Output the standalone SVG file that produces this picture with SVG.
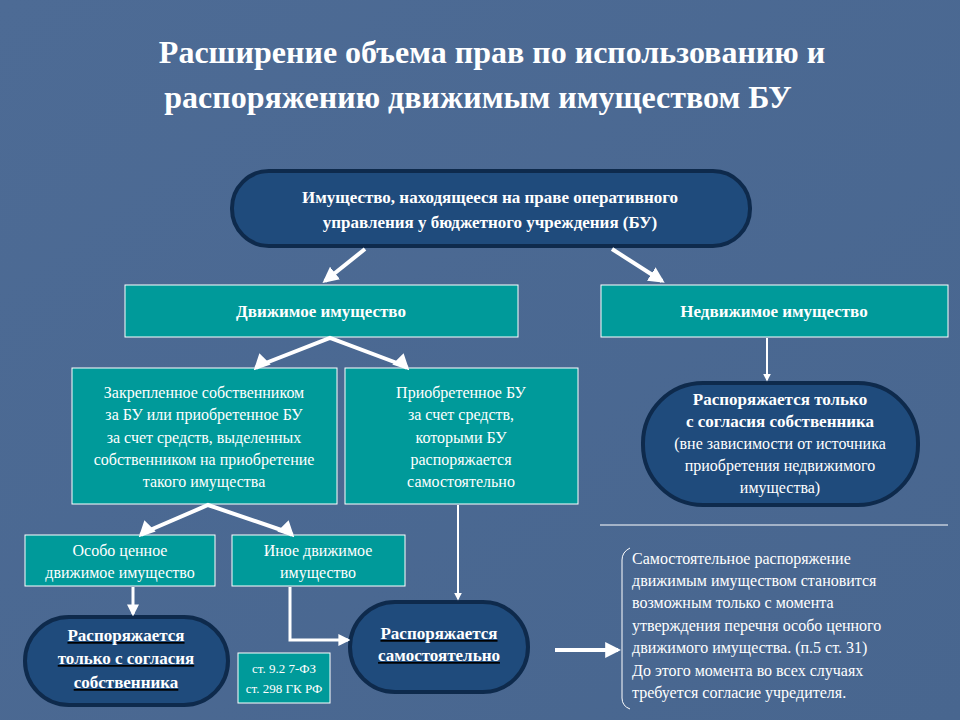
<svg xmlns="http://www.w3.org/2000/svg" width="960" height="720" viewBox="0 0 960 720">
<defs>
<marker id="ah" viewBox="0 0 10 10" refX="8" refY="5" markerWidth="4" markerHeight="4" orient="auto"><path d="M0,0L10,5L0,10z" fill="#fff"/></marker>
<linearGradient id="bg" x1="0" y1="0" x2="1" y2="1"><stop offset="0" stop-color="#4d6b95"/><stop offset="1" stop-color="#48668f"/></linearGradient>
</defs>
<style>
text{fill:#fff;text-anchor:middle;font-family:"Liberation Serif",serif !important}
text.l{text-anchor:start}
.t{font-size:32px;font-weight:bold}
.box{fill:#009a9a;stroke:#fff;stroke-width:1}
.ov{fill:#1f4b7c;stroke:#0e2a4c;stroke-width:4}
.b{font-weight:bold;font-size:17px}
.n{font-size:16px}
.c line,.c path{stroke:#fff;stroke-width:4;fill:none}
</style>
<rect width="960" height="720" fill="url(#bg)"/>
<text style="font-family:'Liberation Serif',serif" class="t" x="492" y="63">Расширение объема прав по использованию и</text>
<text style="font-family:'Liberation Serif',serif" class="t" x="478" y="108">распоряжению движимым имуществом БУ</text>
<g id="top"><rect class="ov" x="232" y="171" width="518" height="75" rx="37"/>
<text class="b" x="490" y="203">Имущество, находящееся на праве оперативного</text>
<text class="b" x="490" y="228">управления у бюджетного учреждения (БУ)</text></g>
<g id="dv"><rect class="box" x="125" y="285" width="393" height="52"/><text class="b" x="321" y="317">Движимое имущество</text></g>
<g id="ndv"><rect class="box" x="601" y="285" width="347" height="52"/><text class="b" x="774" y="317">Недвижимое имущество</text></g>
<g id="zak"><rect class="box" x="72" y="368" width="265" height="136"/>
<g class="n"><text x="204" y="398">Закрепленное собственником</text><text x="204" y="420">за БУ или приобретенное БУ</text><text x="204" y="443">за счет средств, выделенных</text><text x="204" y="465">собственником на приобретение</text><text x="204" y="487">такого имущества</text></g></g>
<g id="prb"><rect class="box" x="345" y="368" width="233" height="136"/>
<g class="n"><text x="461" y="398">Приобретенное БУ</text><text x="461" y="420">за счет средств,</text><text x="461" y="443">которыми  БУ</text><text x="461" y="465">распоряжается</text><text x="461" y="487">самостоятельно</text></g></g>
<g id="nr"><rect class="ov" x="643" y="383" width="275" height="122" rx="60"/>
<text class="b" x="780" y="405" font-size="16">Распоряжается только</text><text class="b" x="780" y="427" font-size="16">с согласия собственника</text>
<g class="n"><text x="780" y="449">(вне зависимости от источника</text><text x="780" y="471">приобретения недвижимого</text><text x="780" y="493">имущества)</text></g></g>
<line x1="600" y1="525" x2="948" y2="525" stroke="#fff" stroke-width="1"/>
<g id="os"><rect class="box" x="25" y="535" width="190" height="51"/><g class="n"><text x="120" y="556">Особо ценное</text><text x="120" y="578">движимое имущество</text></g></g>
<g id="in"><rect class="box" x="232" y="535" width="173" height="51"/><g class="n"><text x="318" y="556">Иное движимое</text><text x="318" y="578">имущество</text></g></g>
<g id="ol"><rect class="ov" x="25" y="617" width="203" height="88" rx="44"/>
<g class="b" font-size="16" text-decoration="underline"><text x="126" y="641">Распоряжается</text><text x="126" y="664">только с согласия</text><text x="126" y="688">собственника</text></g></g>
<g id="oc"><rect class="ov" x="350" y="602" width="178" height="90" rx="45"/>
<g class="b" font-size="16" text-decoration="underline"><text x="439" y="639">Распоряжается</text><text x="439" y="661">самостоятельно</text></g></g>
<g id="st"><rect class="box" x="238" y="653" width="92" height="50"/><g font-size="13"><text x="284" y="673">ст. 9.2 7-ФЗ</text><text x="284" y="693">ст. 298 ГК РФ</text></g></g>
<g id="note"><path d="M630,548 Q622,552 622,560 L622,698 Q622,706 630,709" stroke="#fff" stroke-width="1" fill="none"/>
<g class="n"><text class="l" x="632" y="564">Самостоятельное распоряжение</text><text class="l" x="632" y="586">движимым имуществом становится</text><text class="l" x="632" y="608">возможным только с момента</text><text class="l" x="632" y="631">утверждения перечня особо ценного</text><text class="l" x="632" y="653">движимого  имущества.  (п.5 ст. 31)</text><text class="l" x="632" y="676">До этого момента во всех случаях</text><text class="l" x="632" y="698">требуется согласие учредителя.</text></g></g>
<g class="c" id="connectors">
<line x1="365" y1="249" x2="325" y2="281" marker-end="url(#ah)"/>
<line x1="612" y1="249" x2="662" y2="281" marker-end="url(#ah)"/>
<path d="M258,366 L330,338 L405,366"/>
<line x1="258" y1="366" x2="256" y2="368" marker-end="url(#ah)"/>
<line x1="405" y1="366" x2="407" y2="368" marker-end="url(#ah)"/>
<line x1="767" y1="338" x2="767" y2="380" marker-end="url(#ah)" style="stroke-width:2"/>
<path d="M143,533 L208,505 L290,533"/>
<line x1="143" y1="533" x2="141" y2="535" marker-end="url(#ah)"/>
<line x1="290" y1="533" x2="292" y2="535" marker-end="url(#ah)"/>
<line x1="133" y1="587" x2="133" y2="614" style="stroke-width:3" marker-end="url(#ah)"/>
<path d="M290,587 L290,640 L348,640" style="stroke-width:3" marker-end="url(#ah)"/>
<line x1="458" y1="505" x2="458" y2="599" style="stroke-width:2" marker-end="url(#ah)"/>
<line x1="555" y1="650" x2="618" y2="650" style="stroke-width:4" marker-end="url(#ah)"/>
</g>
</svg>
